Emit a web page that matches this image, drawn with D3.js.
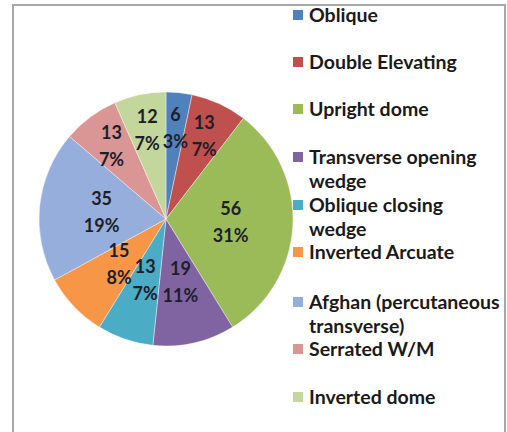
<!DOCTYPE html>
<html>
<head>
<meta charset="utf-8">
<script src="https://cdn.jsdelivr.net/npm/d3@7"></script>
<style>
  html, body { margin: 0; padding: 0; background: #fff; }
  svg { display: block; }
  text { font-family: Lato, "Open Sans", sans-serif; font-weight: bold; }
</style>
</head>
<body>
<svg width="507" height="432"></svg>
<script>
var categories = ["Oblique", "Double Elevating", "Upright dome", "Transverse opening wedge",
    "Oblique closing wedge", "Inverted Arcuate", "Afghan (percutaneous transverse)",
    "Serrated W/M", "Inverted dome"];
var values = [6, 13, 56, 19, 13, 15, 35, 13, 12];
var pctLabels = ["3%", "7%", "31%", "11%", "7%", "8%", "19%", "7%", "7%"];
// legend text broken like the original
var legendLines = [["Oblique"], ["Double Elevating"], ["Upright dome"], ["Transverse opening", "wedge"],
    ["Oblique closing", "wedge"], ["Inverted Arcuate"], ["Afghan (percutaneous", "transverse)"],
    ["Serrated W/M"], ["Inverted dome"]];
var colors = ["#4f81bd", "#c0504d", "#9bbb59", "#8064a2", "#4bacc6", "#f79646", "#95aedb", "#d99694", "#c3d69b"];

var svg = d3.select('svg');
var width = 507, height = 432;

// frame (no bottom edge in the picture)
svg.append('path')
    .attr('d', 'M13,432 V5 H505 V432')
    .attr('fill', 'none')
    .attr('stroke', '#a8a8a8')
    .attr('stroke-width', 2);

var cx = 166, cy = 219, r = 127;

var color = d3.scaleOrdinal().domain(categories).range(colors);

var pie = d3.pie().sort(null).value(d => d.value);
var data = pie(categories.map((c, i) => ({ cat: c, value: values[i], pct: pctLabels[i] })));

var arc = d3.arc().innerRadius(0).outerRadius(r);
var inner = d3.arc().innerRadius(r * 0.51).outerRadius(r * 0.51);
var outer = d3.arc().innerRadius(r * 0.72).outerRadius(r * 0.72);

var g = svg.append('g').attr('transform', `translate(${cx},${cy})`);

g.selectAll('path.slice')
    .data(data)
    .enter().append('path')
    .attr('class', 'slice')
    .attr('d', arc)
    .attr('fill', d => color(d.data.cat))
    .attr('stroke', 'rgba(255,255,255,0.5)')
    .attr('stroke-width', 0.8);

function labelPos(d) {
    var mid = (d.startAngle + d.endAngle) / 2;
    var top = mid < Math.PI / 2 || mid > Math.PI * 1.5;
    return (d.value < 14 && top) ? outer.centroid(d) : inner.centroid(d);
}

var labels = g.selectAll('text.lbl')
    .data(data)
    .enter().append('text')
    .attr('class', 'lbl')
    .attr('text-anchor', 'middle')
    .attr('font-size', 18)
    .attr('fill', '#1e1e2a')
    .attr('transform', d => `translate(${labelPos(d)})`);

labels.append('tspan').attr('x', 0).attr('y', -7).text(d => d.value);
labels.append('tspan').attr('x', 0).attr('y', 20).text(d => d.data.pct);

// legend
var legendY = [15, 62, 109, 157, 205, 252, 302, 349, 397];
var legend = svg.append('g').attr('transform', 'translate(293,0)');

var items = legend.selectAll('g')
    .data(categories)
    .enter().append('g')
    .attr('transform', (d, i) => `translate(0,${legendY[i]})`);

items.append('rect')
    .attr('x', 0)
    .attr('y', -5)
    .attr('width', 10)
    .attr('height', 10)
    .attr('fill', d => color(d));

items.append('text')
    .attr('font-size', 19.5)
    .attr('fill', '#1a1a1a')
    .selectAll('tspan')
    .data((d, i) => legendLines[i])
    .enter().append('tspan')
    .attr('x', 16)
    .attr('y', (d, j) => 7 + j * 24)
    .text(d => d);
</script>
</body>
</html>
